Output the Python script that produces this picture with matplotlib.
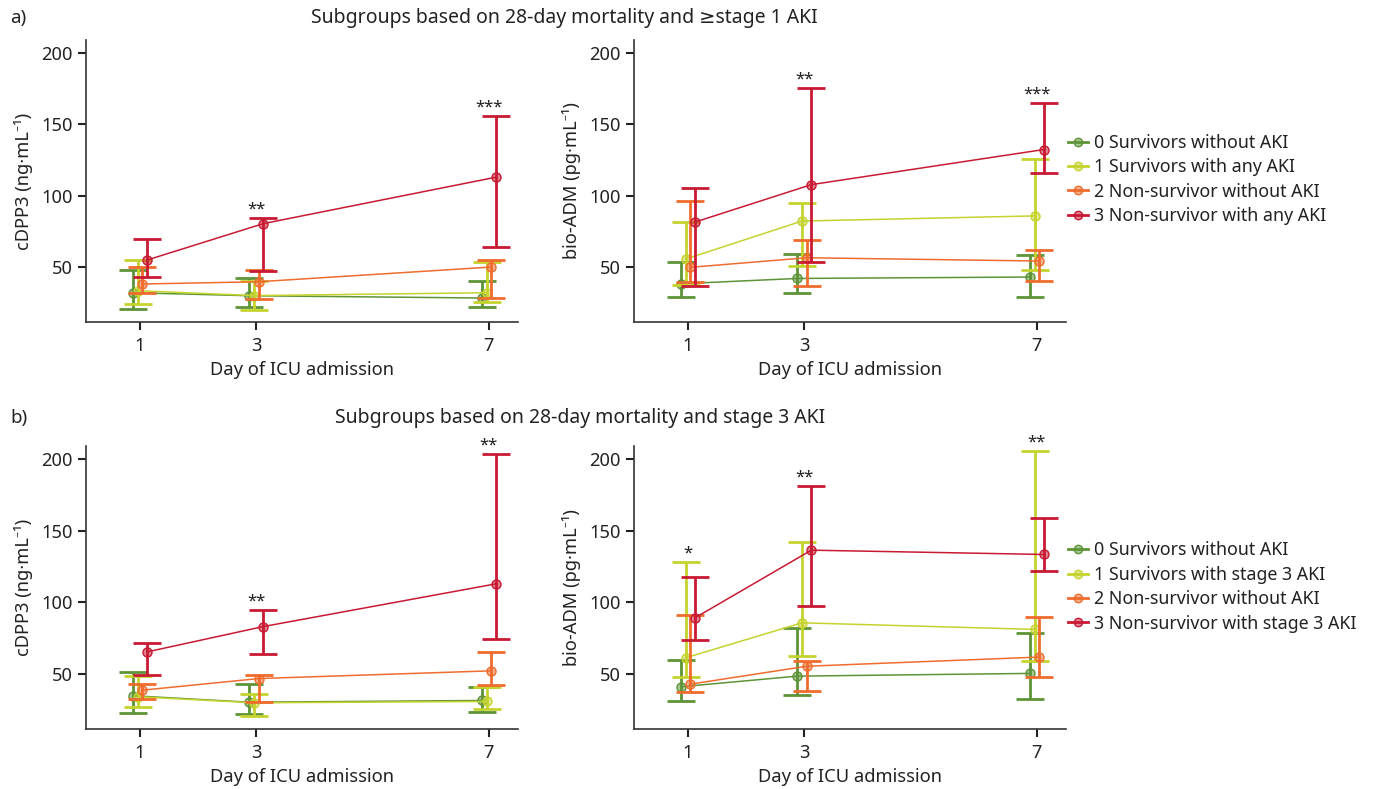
import numpy as np
import matplotlib.pyplot as plt

# days of ICU admission and groups
days = [1, 3, 7]
colors = ['#5e9438', '#c5d32e', '#ef6c2e', '#c81a33']
labels_a = ['0 Survivors without AKI', '1 Survivors with any AKI',
            '2 Non-survivor without AKI', '3 Non-survivor with any AKI']
labels_b = ['0 Survivors without AKI', '1 Survivors with stage 3 AKI',
            '2 Non-survivor without AKI', '3 Non-survivor with stage 3 AKI']

# a) cDPP3 (ng/mL): median, lower, upper per group (rows) and day (cols)
a_dpp3_mid = [[32.0, 29.9, 28.3], [33.4, 30.0, 32.0], [38.1, 39.7, 50.0], [54.9, 80.4, 112.9]]
a_dpp3_lo = [[20.6, 22.0, 22.0], [24.1, 19.9, 25.5], [31.5, 27.6, 28.3], [42.8, 47.2, 63.8]]
a_dpp3_hi = [[47.9, 42.3, 40.2], [54.9, 40.2, 53.7], [49.8, 47.7, 54.9], [69.4, 84.1, 155.6]]
a_dpp3_stars = ['', '**', '***']

# a) bio-ADM (pg/mL)
a_adm_mid = [[38.3, 42.0, 43.0], [55.6, 82.2, 85.8], [49.8, 56.5, 54.2], [81.5, 107.7, 132.3]]
a_adm_lo = [[29.0, 31.5, 28.8], [37.4, 50.5, 47.7], [39.3, 36.4, 40.0], [36.4, 53.3, 115.7]]
a_adm_hi = [[53.5, 59.1, 58.4], [81.3, 94.9, 125.5], [96.0, 68.7, 61.7], [105.1, 175.2, 164.8]]
a_adm_stars = ['', '**', '***']

# b) cDPP3
b_dpp3_mid = [[34.7, 30.2, 31.4], [34.0, 29.8, 30.7], [38.6, 46.7, 52.1], [65.3, 83.0, 112.8]]
b_dpp3_lo = [[22.6, 21.9, 23.3], [27.0, 20.7, 25.3], [32.6, 30.2, 42.1], [49.1, 63.7, 74.2]]
b_dpp3_hi = [[51.2, 42.8, 40.7], [48.4, 35.8, 40.7], [42.8, 49.1, 65.1], [71.6, 94.4, 203.3]]
b_dpp3_stars = ['', '**', '**']

# b) bio-ADM
b_adm_mid = [[41.0, 48.4, 50.3], [61.2, 85.6, 81.0], [42.8, 55.3, 61.7], [89.1, 136.3, 133.3]]
b_adm_lo = [[31.2, 35.1, 32.6], [47.7, 62.3, 59.1], [37.4, 38.1, 47.9], [73.7, 97.4, 121.9]]
b_adm_hi = [[59.8, 81.9, 78.6], [127.9, 141.9, 205.4], [91.2, 59.1, 89.6], [117.7, 180.9, 158.6]]
b_adm_stars = ['*', '**', '**']

plt.rcParams['font.family'] = ['Noto Sans', 'DejaVu Sans']
plt.rcParams['font.size'] = 13.2
plt.rcParams['text.color'] = '#222222'
plt.rcParams['axes.labelcolor'] = '#222222'
plt.rcParams['xtick.color'] = '#222222'
plt.rcParams['ytick.color'] = '#222222'

W, H = 1381, 789
fig = plt.figure(figsize=(W / 100, H / 100), dpi=100)


def add_ax(x0, y0, x1, y1):
    return fig.add_axes([x0 / W, 1 - y1 / H, (x1 - x0) / W, (y1 - y0) / H])


offsets = [-0.12, -0.04, 0.04, 0.12]


def panel(ax, mid, lo, hi, stars, ylabel):
    for g in range(4):
        x = np.array(days) + offsets[g]
        m = np.array(mid[g])
        err = [m - np.array(lo[g]), np.array(hi[g]) - m]
        ax.errorbar(x, m, yerr=err, fmt='none', ecolor=colors[g], elinewidth=2.0,
                    capsize=10, capthick=2.0, zorder=2 + g)
        ax.plot(x, m, '-', color=colors[g], lw=1.1, zorder=2 + g)
        ax.plot(x, m, 'o', color=colors[g], ms=6.5, mfc=colors[g] + '88',
                mec=colors[g], mew=1.0, zorder=2 + g)
    top = np.max(np.array(hi), axis=0)
    for d, s, t in zip(days, stars, top):
        if s:
            ax.text(d, t + 6, s, ha='center', va='center', fontsize=12, clip_on=False)
    ax.set_xlim(0.07, 7.5)
    ax.set_ylim(11.5, 209)
    ax.set_xticks(days)
    ax.set_yticks([50, 100, 150, 200])
    ax.set_xlabel('Day of ICU admission', labelpad=4)
    ax.set_ylabel(ylabel, labelpad=6)
    ax.spines['top'].set_visible(False)
    ax.spines['right'].set_visible(False)
    for sp in ['left', 'bottom']:
        ax.spines[sp].set_linewidth(1.2)
        ax.spines[sp].set_color('#333333')
    ax.tick_params(length=6, width=1.5, color='#222222')
    ax.tick_params(axis='x', pad=5)


ax1 = add_ax(86, 40, 518, 322)
ax2 = add_ax(634, 40, 1066, 322)
ax3 = add_ax(86, 446, 518, 729)
ax4 = add_ax(634, 446, 1066, 729)

panel(ax1, a_dpp3_mid, a_dpp3_lo, a_dpp3_hi, a_dpp3_stars, 'cDPP3 (ng·mL⁻¹)')
panel(ax2, a_adm_mid, a_adm_lo, a_adm_hi, a_adm_stars, 'bio-ADM (pg·mL⁻¹)')
panel(ax3, b_dpp3_mid, b_dpp3_lo, b_dpp3_hi, b_dpp3_stars, 'cDPP3 (ng·mL⁻¹)')
panel(ax4, b_adm_mid, b_adm_lo, b_adm_hi, b_adm_stars, 'bio-ADM (pg·mL⁻¹)')


def legend(labels, yc):
    handles = [plt.Line2D([], [], color=c, lw=2, marker='o', ms=6, mfc=c + '88', mec=c)
               for c in colors]
    fig.legend(handles, labels, loc='center left', bbox_to_anchor=(1068 / W, 1 - yc / H),
               frameon=False, borderpad=0, borderaxespad=0, handlelength=1.1,
               handletextpad=0.35, labelspacing=0.36, fontsize=12.8)


legend(labels_a, 179.5)
legend(labels_b, 587)

fig.text(10 / W, 1 - 18 / H, 'a)', ha='left', va='center', fontsize=13.5)
fig.text(564 / W, 1 - 18 / H, 'Subgroups based on 28-day mortality and ≥stage 1 AKI',
         ha='center', va='center', fontsize=14)
fig.text(10 / W, 1 - 418 / H, 'b)', ha='left', va='center', fontsize=13.5)
fig.text(580 / W, 1 - 418 / H, 'Subgroups based on 28-day mortality and stage 3 AKI',
         ha='center', va='center', fontsize=14)

fig.savefig('out.png', dpi=100)
